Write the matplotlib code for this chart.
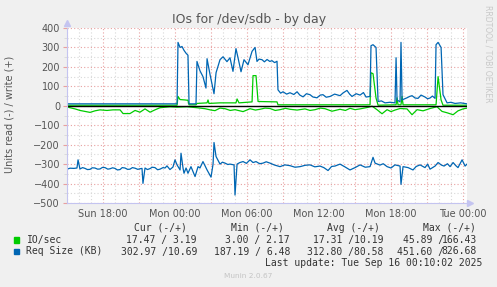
import matplotlib
matplotlib.use("Agg")
import matplotlib.pyplot as plt
from matplotlib.patches import Rectangle
from matplotlib.ticker import MultipleLocator, FuncFormatter

W, H = 497, 287

# time axis: hours since Sun 00:00
day_names = ["Sun", "Mon", "Tue"]

# IO/sec, write (+)
io_write_t = [15.0, 24.17, 24.25, 24.42, 24.83, 25.08, 25.17, 25.75, 25.83, 26.67, 26.75,
              26.83, 27.75, 29.08, 29.17, 29.33, 30.42, 30.5, 30.75, 30.92, 32.5, 32.58,
              40.25, 40.33, 40.5, 40.75, 40.92, 42.42, 42.5, 42.58, 42.83, 42.92, 43.0,
              45.75, 45.92, 46.17, 46.33, 48.33]
io_write = [3, 3, 48, 32, 30, 28, 5, 5, 12, 15, 30,
            12, 15, 15, 35, 15, 20, 155, 155, 22, 20, 5,
            5, 170, 165, 40, 3, 5, 41, 5, 5, 48, 5,
            5, 150, 30, 3, 3]

# IO/sec, read (-)
io_read_t = [15.0, 15.25, 15.67, 16.08, 16.5, 16.92, 17.33, 17.75, 18.33, 18.83, 19.42,
             19.67, 20.25, 20.67, 21.08, 21.5, 21.92, 22.33, 22.75, 23.58, 24.17, 25.0,
             25.83, 26.5, 27.0, 27.33, 27.75, 28.17, 28.6, 29.0, 29.67, 30.25, 30.7, 31.08,
             31.5, 31.92, 32.35, 32.75, 33.2, 33.58, 34.17, 34.83, 35.25, 35.67, 36.1,
             36.5, 37.08, 37.75, 38.2, 38.58, 39.0, 39.42, 40.08, 40.42, 40.83, 41.25,
             41.67, 42.0, 42.33, 42.75, 43.33, 43.75, 44.17, 44.67, 45.25, 45.83, 46.25,
             46.67, 47.17, 47.58, 48.0, 48.33]
io_read = [5, 10, 16, 24, 29, 34, 26, 21, 24, 21, 21,
           40, 40, 24, 33, 16, 33, 21, 10, 5, 7, 5,
           10, 15, 22, 25, 12, 15, 24, 20, 30, 15, 22, 18,
           12, 14, 24, 20, 13, 18, 22, 16, 24, 20, 12,
           15, 28, 18, 24, 13, 20, 16, 8, 2, 20, 41,
           20, 30, 22, 14, 16, 46, 20, 26, 14, 5, 29,
           36, 46, 26, 16, 12]

# Req Size (KB), write (+)
req_write_t = [15.0, 24.17, 24.25, 24.42, 24.58, 24.75, 24.92, 25.08, 25.17, 25.75, 25.83,
               26.08, 26.33, 26.58, 26.67, 26.92, 27.25, 27.42, 27.75, 28.0, 28.33, 28.58,
               28.83, 29.08, 29.25, 29.5, 29.75, 30.08, 30.42, 30.67, 30.83, 31.0, 31.25,
               31.45, 31.67, 31.9, 32.08, 32.3, 32.5, 32.58, 32.8, 33.0, 33.3, 33.58, 33.9,
               34.17, 34.4, 34.67, 34.95, 35.25, 35.5, 35.83, 36.1, 36.33, 36.6, 36.92,
               37.3, 37.75, 38.0, 38.33, 38.55, 38.75, 39.1, 39.42, 39.7, 39.92, 40.25,
               40.33, 40.5, 40.75, 40.92, 41.2, 41.5, 41.92, 42.33, 42.42, 42.5, 42.75,
               42.83, 42.92, 43.1, 43.33, 43.55, 43.75, 44.0, 44.25, 44.5, 44.83, 45.05,
               45.25, 45.45, 45.67, 45.75, 45.92, 46.17, 46.33, 46.67, 47.0, 47.33, 47.8,
               48.33]
req_write = [10, 10, 326, 300, 305, 285, 270, 260, 10, 10, 228,
             180, 150, 91, 242, 160, 62, 170, 237, 252, 227, 247,
             177, 294, 247, 175, 237, 211, 280, 300, 228, 240, 237,
             226, 238, 228, 232, 222, 229, 82, 65, 72, 60, 67, 58,
             72, 55, 46, 62, 57, 45, 41, 55, 57, 44, 48,
             60, 52, 66, 79, 60, 48, 62, 55, 68, 45, 48,
             309, 314, 300, 22, 25, 15, 18, 15, 247, 30, 20,
             326, 30, 35, 41, 48, 52, 40, 38, 55, 45, 36,
             40, 50, 38, 314, 326, 300, 57, 15, 18, 12, 15,
             10]

# Req Size (KB), read (-)
req_read_t = [15.0, 15.25, 15.58, 15.83, 15.92, 16.08, 16.3, 16.5, 16.7, 16.92, 17.1,
              17.33, 17.55, 17.75, 17.95, 18.17, 18.4, 18.58, 18.8, 19.0, 19.2, 19.42,
              19.6, 19.83, 20.05, 20.25, 20.45, 20.67, 20.9, 21.08, 21.25, 21.33, 21.5,
              21.7, 21.92, 22.1, 22.33, 22.55, 22.75, 23.0, 23.17, 23.33, 23.58, 23.83,
              24.0, 24.17, 24.42, 24.5, 24.67, 24.75, 24.92, 25.08, 25.33, 25.67, 25.92,
              26.08, 26.33, 26.67, 27.0, 27.17, 27.25, 27.42, 27.75, 27.95, 28.17, 28.4,
              28.58, 28.92, 29.0, 29.17, 29.4, 29.67, 29.95, 30.25, 30.5, 30.75, 31.05,
              31.33, 31.6, 31.92, 32.3, 32.75, 33.15, 33.58, 34.0, 34.42, 34.85, 35.25,
              35.65, 36.08, 36.4, 36.75, 37.05, 37.33, 37.75, 38.15, 38.58, 39.0, 39.42,
              39.85, 40.25, 40.5, 40.67, 41.08, 41.35, 41.67, 42.0, 42.33, 42.75, 42.83,
              43.0, 43.42, 43.83, 44.1, 44.42, 44.83, 45.05, 45.25, 45.67, 45.92, 46.2,
              46.42, 46.7, 46.92, 47.17, 47.4, 47.58, 47.92, 48.17, 48.33]
req_read = [326, 321, 322, 320, 278, 325, 318, 322, 328, 327, 319,
            320, 326, 325, 317, 318, 326, 324, 319, 322, 330, 328,
            318, 320, 327, 326, 318, 321, 327, 324, 322, 399, 320,
            328, 323, 316, 318, 329, 326, 318, 320, 309, 328, 315,
            278, 304, 330, 244, 321, 347, 320, 347, 313, 364, 313,
            320, 287, 330, 367, 300, 189, 261, 300, 290, 295, 302,
            300, 304, 459, 300, 292, 287, 296, 278, 292, 287, 298,
            295, 288, 295, 305, 313, 304, 308, 316, 313, 306, 304,
            314, 310, 318, 333, 312, 310, 300, 314, 330, 318, 304,
            316, 313, 265, 295, 305, 298, 313, 320, 304, 310, 404,
            313, 318, 330, 312, 304, 318, 300, 326, 310, 292, 305,
            310, 298, 313, 292, 308, 318, 278, 310, 300]

# legend table
series_names = ["IO/sec", "Req Size (KB)"]
series_colors = ["#00cc00", "#0066b3"]
cur_vals = ["17.47 / 3.19", "302.97 /10.69"]
min_vals = ["3.00 / 2.17", "187.19 / 6.48"]
avg_vals = ["17.31 /10.19", "312.80 /80.58"]
max_read = ["45.89", "451.60"]
max_write = ["166.43", "826.68"]


def fx(x):
    return x / W


def fy(y):
    return 1 - y / H


fig = plt.figure(figsize=(W / 100, H / 100), dpi=100, facecolor="#f0f0f0")
ax = fig.add_axes([fx(67), fy(203), 400 / W, 175 / H])
ax.set_facecolor("white")
ax.set_xlim(15, 48.33)
ax.set_ylim(-500, 400)

# grid
ax.xaxis.set_major_locator(MultipleLocator(3))
ax.xaxis.set_minor_locator(MultipleLocator(1))
ax.yaxis.set_major_locator(MultipleLocator(100))
ax.yaxis.set_minor_locator(MultipleLocator(50))
ax.grid(which="major", color="#e8a0a0", linestyle=(0, (1, 2)), linewidth=0.8)
ax.grid(which="minor", color="#d8d8d8", linestyle=(0, (1, 2)), linewidth=0.8)
ax.set_axisbelow(True)


def xfmt(h, pos):
    h = int(round(h))
    if h % 6:
        return ""
    return "%s %02d:00" % (day_names[h // 24], h % 24)


ax.xaxis.set_major_formatter(FuncFormatter(xfmt))
ax.tick_params(axis="both", which="both", labelsize=7, labelcolor="#555555")
ax.tick_params(axis="x", which="both", length=0, pad=4)
ax.tick_params(axis="y", which="major", length=3, color="#e8a0a0", pad=2)
ax.tick_params(axis="y", which="minor", length=2, color="#d8d8d8")

for s in ["top", "right"]:
    ax.spines[s].set_visible(False)
for s in ["left", "bottom"]:
    ax.spines[s].set_color("#c4c4f0")
    ax.spines[s].set_linewidth(0.8)
ax.plot([0], [1.03], marker="^", ms=4, color="#c4c4f0", transform=ax.transAxes, clip_on=False)
ax.plot([1.008], [0], marker=">", ms=4, color="#c4c4f0", transform=ax.transAxes, clip_on=False)

# data
ax.plot(io_write_t, io_write, color=series_colors[0], lw=0.9)
ax.plot(io_read_t, [-v for v in io_read], color=series_colors[0], lw=0.9)
ax.plot(req_write_t, req_write, color=series_colors[1], lw=0.9)
ax.plot(req_read_t, [-v for v in req_read], color=series_colors[1], lw=0.9)
ax.axhline(0, color="black", lw=1.0)

# texts
fig.text(fx(249), fy(20), "IOs for /dev/sdb - by day", ha="center", va="center",
         fontsize=9, color="#555555")
fig.text(fx(10), fy(114), "Units read (-) / write (+)", rotation=90, ha="center",
         va="center", fontsize=7, color="#555555")
fig.text(fx(488), fy(54), "RRDTOOL / TOBI OETIKER", rotation=270, ha="center",
         va="center", fontsize=5.5, color="#c8c8c8")

mono = dict(family="DejaVu Sans Mono", fontsize=7, color="#333333", va="center")
for x, lab in zip([187, 284, 380, 476], ["Cur (-/+)", "Min (-/+)", "Avg (-/+)", "Max (-/+)"]):
    fig.text(fx(x), fy(228), lab, ha="right", **mono)

for i, y in enumerate([240, 251.5]):
    fig.add_artist(Rectangle((fx(14), fy(y + 2.7)), 5.3 / W, 5.3 / H,
                             transform=fig.transFigure, color=series_colors[i]))
    fig.text(fx(26.5), fy(y), series_names[i], ha="left", **mono)
    fig.text(fx(197), fy(y), cur_vals[i], ha="right", **mono)
    fig.text(fx(290), fy(y), min_vals[i], ha="right", **mono)
    fig.text(fx(383.5), fy(y), avg_vals[i], ha="right", **mono)
    fig.text(fx(477), fy(y), max_write[i], ha="right", **mono)
    fig.text(fx(477 - 6 * 5.85 + 2.5), fy(y), max_read[i] + " /", ha="right", **mono)

fig.text(fx(482.5), fy(263.5), "Last update: Tue Sep 16 00:10:02 2025", ha="right", **mono)
fig.text(fx(248), fy(276), "Munin 2.0.67", ha="center", va="center", fontsize=5.3,
         color="#c4c4c4")

fig.savefig("out.png", dpi=100, facecolor=fig.get_facecolor())
